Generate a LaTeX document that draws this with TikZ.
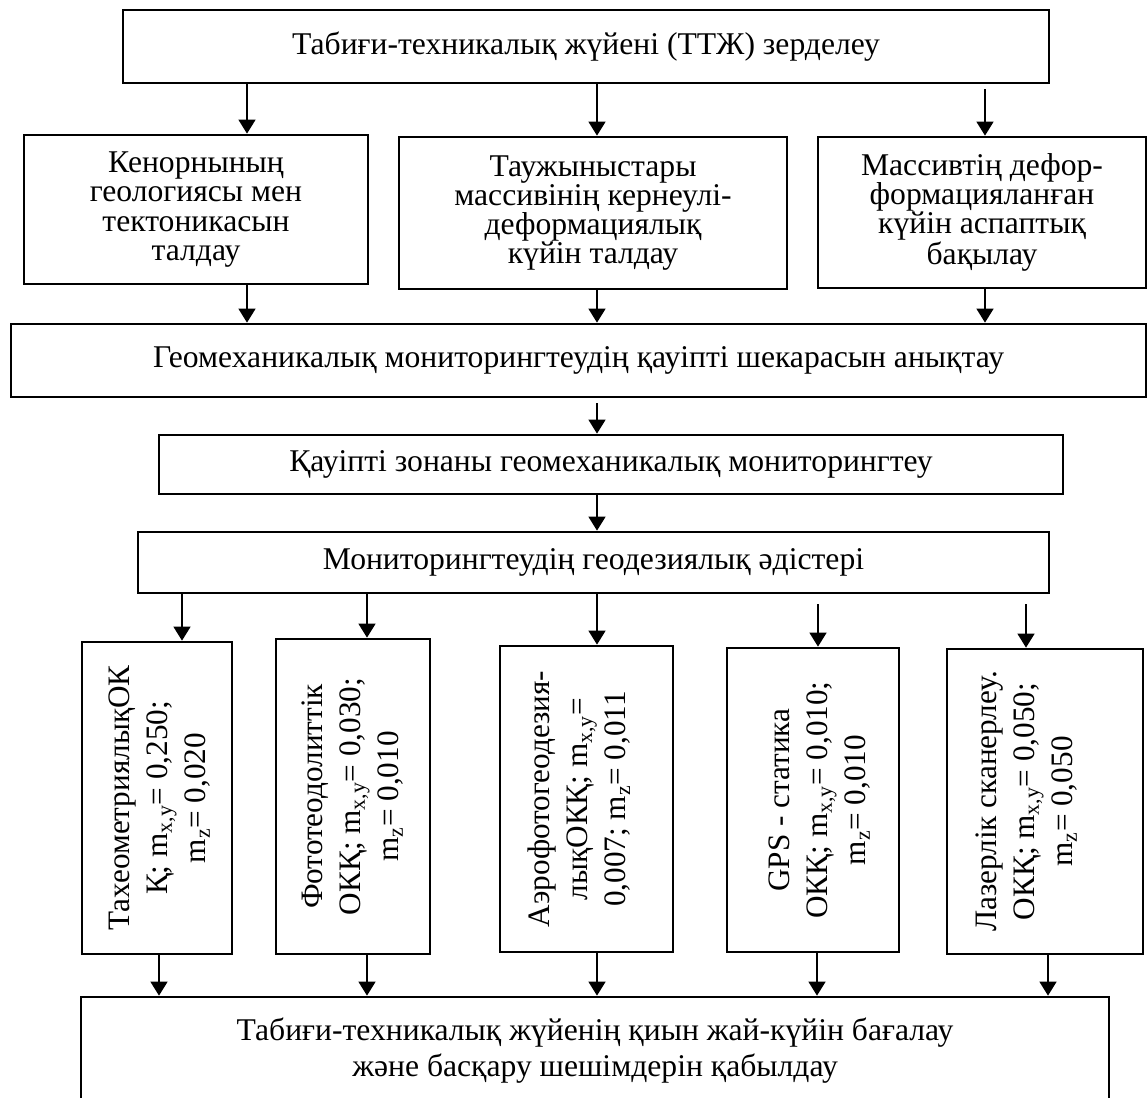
\documentclass[tikz,border=0pt]{standalone}
\usepackage{fontspec}
\setmainfont{Liberation Serif}
\usepackage{graphicx}
\usetikzlibrary{
    arrows.meta,
    positioning,
    calc
}

% texto girado 90 grados (se lee de abajo hacia arriba)
\newcommand{\textoVertical}[2][0cm]{%
    \rotatebox{90}{\fontsize{22.2}{27}\selectfont
        \begin{tabular}{@{}c@{}}#2\end{tabular}}\hspace*{#1}}

\tikzset{
    caja/.style={
        rectangle, draw=black, line width=1.9pt, fill=white,
        align=center, inner sep=2pt,
        font=\fontsize{22.5}{20.8}\selectfont, text=black
    },
    cajaVertical/.style={
        caja, inner sep=0pt
    },
    cajaFinal/.style={
        caja, font=\fontsize{22.5}{25.6}\selectfont
    },
    flecha/.style={
        -{Stealth[length=10pt,width=12pt,inset=0pt]},
        line width=1.4pt, color=black
    },
}

\begin{document}
\begin{tikzpicture}[x=1cm, y=1cm]

    % ----------------------------------------------------------
    % MARCO — origen arriba a la izquierda, y hacia abajo
    % ----------------------------------------------------------
    \useasboundingbox (0,0) rectangle (28.7,-27.425);
    \clip (0,0) rectangle (28.7,-27.425);

    % columnas de las flechas
    \coordinate (colA)  at ( 6.175, 0);
    \coordinate (colB)  at (14.925, 0);
    \coordinate (colC)  at (24.625, 0);
    \coordinate (colV1) at ( 4.55,  0);
    \coordinate (colV2) at ( 9.175, 0);
    \coordinate (colV4) at (20.45,  0);
    \coordinate (colV5) at (25.65,  0);
    \coordinate (colG1) at ( 3.975, 0);
    \coordinate (colG4) at (20.425, 0);
    \coordinate (colG5) at (26.2,   0);

    % ----------------------------------------------------------
    % NODOS — parte superior
    % ----------------------------------------------------------
    \node[caja, minimum width=23.15cm, minimum height=1.825cm]
        at (14.65, -1.1625) (ttz) {Табиғи-техникалық жүйені (ТТЖ) зерделеу};

    \node[caja, minimum width=8.6cm, minimum height=3.725cm]
        at (4.9, -5.2375) (geologia)
        {Кенорнының\\геологиясы мен\\тектоникасын\\талдау};
    \node[caja, minimum width=9.7cm, minimum height=3.8cm]
        at (14.825, -5.325) (tension)
        {Таужыныстары\\массивінің кернеулі-\\деформациялық\\күйін талдау};
    \node[caja, minimum width=8.2cm, minimum height=3.775cm]
        at (24.55, -5.3125) (instrumental)
        {Массивтің дефор-\\формацияланған\\күйін аспаптық\\бақылау};

    \node[caja, minimum width=28.375cm, minimum height=1.825cm]
        at (14.4625, -9.0125) (limite)
        {Геомеханикалық мониторингтеудің қауіпті шекарасын анықтау};
    \node[caja, minimum width=22.6cm, minimum height=1.475cm]
        at (15.275, -11.6125) (zonaRiesgo)
        {Қауіпті зонаны геомеханикалық мониторингтеу};
    \node[caja, minimum width=22.775cm, minimum height=1.525cm]
        at (14.8375, -14.0625) (metodosGeo)
        {Мониторингтеудің геодезиялық әдістері};

    % ----------------------------------------------------------
    % NODOS — métodos (texto vertical)
    % ----------------------------------------------------------
    \node[cajaVertical, minimum width=3.75cm, minimum height=7.8cm]
        at (3.925, -19.95) (taqueo)
        {\textoVertical[-0.15cm]{ТахеометриялықОК\\Қ; m\textsubscript{x,y}= 0,250;\\m\textsubscript{z}= 0,020}};
    \node[cajaVertical, minimum width=3.85cm, minimum height=7.875cm]
        at (8.825, -19.9125) (fototeo)
        {\textoVertical{Фототеодолиттік\\ОКҚ; m\textsubscript{x,y}= 0,030;\\m\textsubscript{z}= 0,010}};
    \node[cajaVertical, minimum width=4.325cm, minimum height=7.65cm]
        at (14.6625, -19.975) (aerofoto)
        {\textoVertical[0.32cm]{Аэрофотогеодезия-\\лықОКҚ; m\textsubscript{x,y}=\\0,007; m\textsubscript{z}= 0,011}};
    \node[cajaVertical, minimum width=4.3cm, minimum height=7.6cm]
        at (20.325, -20.0) (gpsEstatica)
        {\textoVertical[-0.35cm]{GPS - статика\\ОКҚ; m\textsubscript{x,y}= 0,010;\\m\textsubscript{z}= 0,010}};
    \node[cajaVertical, minimum width=4.9cm, minimum height=7.625cm]
        at (26.125, -20.0375) (laser)
        {\textoVertical[0.9cm]{Лазерлік сканерлеу.\\ОКҚ; m\textsubscript{x,y}= 0,050;\\m\textsubscript{z}= 0,050}};

    \node[cajaFinal, minimum width=25.7cm, minimum height=2.7cm]
        at (14.875, -26.275) (evaluacion)
        {Табиғи-техникалық жүйенің қиын жай-күйін бағалау\\және басқару шешімдерін қабылдау};

    % ----------------------------------------------------------
    % FLECHAS
    % ----------------------------------------------------------
    \draw[flecha] (ttz.south -| colA) -- (geologia.north -| colA);
    \draw[flecha] (ttz.south -| colB) -- (tension.north -| colB);
    \draw[flecha, shorten <=0.125cm] (ttz.south -| colC) -- (instrumental.north -| colC);

    \draw[flecha] (geologia.south -| colA)     -- (limite.north -| colA);
    \draw[flecha] (tension.south -| colB)      -- (limite.north -| colB);
    \draw[flecha] (instrumental.south -| colC) -- (limite.north -| colC);

    \draw[flecha, shorten <=0.125cm] (limite.south -| colB) -- (zonaRiesgo.north -| colB);
    \draw[flecha] (zonaRiesgo.south -| colB) -- (metodosGeo.north -| colB);

    \draw[flecha] (metodosGeo.south -| colV1) -- (taqueo.north -| colV1);
    \draw[flecha] (metodosGeo.south -| colV2) -- (fototeo.north -| colV2);
    \draw[flecha] (metodosGeo.south -| colB)  -- (aerofoto.north -| colB);
    \draw[flecha, shorten <=0.25cm] (metodosGeo.south -| colV4) -- (gpsEstatica.north -| colV4);
    \draw[flecha, shorten <=0.25cm] (metodosGeo.south -| colV5) -- (laser.north -| colV5);

    \draw[flecha] (taqueo.south -| colG1)      -- (evaluacion.north -| colG1);
    \draw[flecha] (fototeo.south -| colV2)     -- (evaluacion.north -| colV2);
    \draw[flecha] (aerofoto.south -| colB)     -- (evaluacion.north -| colB);
    \draw[flecha] (gpsEstatica.south -| colG4) -- (evaluacion.north -| colG4);
    \draw[flecha] (laser.south -| colG5)       -- (evaluacion.north -| colG5);

\end{tikzpicture}
\end{document}
